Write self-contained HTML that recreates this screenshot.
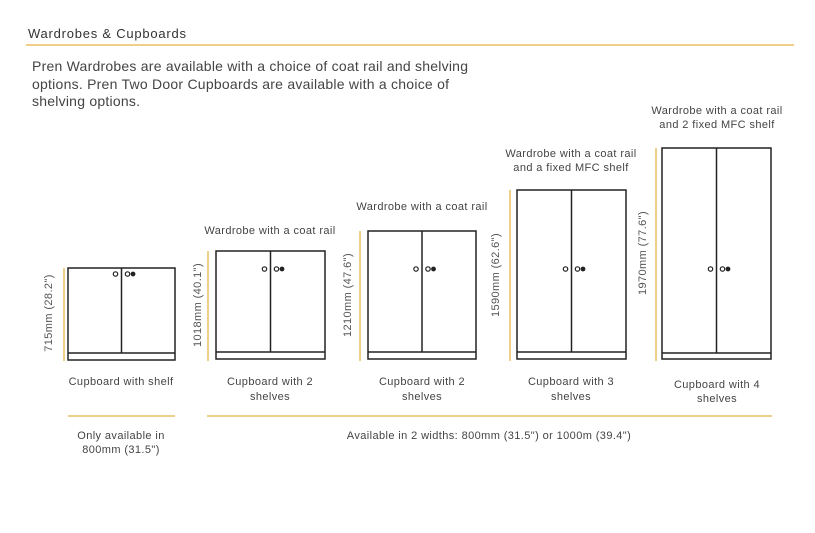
<!DOCTYPE html>
<html><head><meta charset="utf-8"><style>
body{margin:0;background:#fff;width:815px;height:533px;overflow:hidden}
svg{display:block;font-family:"Liberation Sans",sans-serif}
</style></head><body>
<svg width="815" height="533" viewBox="0 0 815 533">
<text x="28" y="38" font-size="13" fill="#333" textLength="158" lengthAdjust="spacing">Wardrobes &amp; Cupboards</text>
<line x1="26" y1="45" x2="794" y2="45" stroke="#e8c160" stroke-width="1.5"/>
<g font-size="14" fill="#444">
<text x="32" y="71" textLength="436" lengthAdjust="spacing">Pren Wardrobes are available with a choice of coat rail and shelving</text>
<text x="32" y="89" textLength="417" lengthAdjust="spacing">options. Pren Two Door Cupboards are available with a choice of</text>
<text x="32" y="106" textLength="108" lengthAdjust="spacing">shelving options.</text>
</g>
<g stroke="#e8c160" stroke-width="1.5">
<line x1="64" y1="268" x2="64" y2="361"/>
<line x1="208" y1="251" x2="208" y2="361"/>
<line x1="360" y1="231" x2="360" y2="361"/>
<line x1="510" y1="190" x2="510" y2="361"/>
<line x1="656" y1="148" x2="656" y2="361"/>
<line x1="68" y1="416" x2="175" y2="416"/>
<line x1="207" y1="416" x2="772" y2="416"/>
</g>
<g font-size="11" fill="#555" text-anchor="middle" letter-spacing="0.4">
<text transform="translate(52,313) rotate(-90)">715mm (28.2")</text>
<text transform="translate(201,305) rotate(-90)">1018mm (40.1")</text>
<text transform="translate(351,295) rotate(-90)">1210mm (47.6")</text>
<text transform="translate(499,275) rotate(-90)">1590mm (62.6")</text>
<text transform="translate(646,253) rotate(-90)">1970mm (77.6")</text>
</g>
<g fill="none" stroke="#222" stroke-width="1.5">
<rect x="68" y="268" width="107" height="92"/><line x1="68" y1="353" x2="175" y2="353"/><line x1="121.5" y1="268" x2="121.5" y2="353"/>
<rect x="216" y="251" width="109" height="108"/><line x1="216" y1="352" x2="325" y2="352"/><line x1="270.5" y1="251" x2="270.5" y2="352"/>
<rect x="368" y="231" width="108" height="128"/><line x1="368" y1="352" x2="476" y2="352"/><line x1="422" y1="231" x2="422" y2="352"/>
<rect x="517" y="190" width="109" height="169"/><line x1="517" y1="352" x2="626" y2="352"/><line x1="571.5" y1="190" x2="571.5" y2="352"/>
<rect x="662" y="148" width="109" height="211"/><line x1="662" y1="353" x2="771" y2="353"/><line x1="716.5" y1="148" x2="716.5" y2="353"/>
</g>
<g stroke="#222" stroke-width="1.2">
<circle cx="115.5" cy="274" r="2.2" fill="none"/><circle cx="127.5" cy="274" r="2.2" fill="none"/><circle cx="133" cy="274" r="1.8" fill="#222"/>
<circle cx="264.5" cy="269" r="2.2" fill="none"/><circle cx="276.5" cy="269" r="2.2" fill="none"/><circle cx="282" cy="269" r="1.8" fill="#222"/>
<circle cx="416" cy="269" r="2.2" fill="none"/><circle cx="428" cy="269" r="2.2" fill="none"/><circle cx="433.5" cy="269" r="1.8" fill="#222"/>
<circle cx="565.5" cy="269" r="2.2" fill="none"/><circle cx="577.5" cy="269" r="2.2" fill="none"/><circle cx="583" cy="269" r="1.8" fill="#222"/>
<circle cx="710.5" cy="269" r="2.2" fill="none"/><circle cx="722.5" cy="269" r="2.2" fill="none"/><circle cx="728" cy="269" r="1.8" fill="#222"/>
</g>
<g font-size="11" fill="#444" text-anchor="middle" letter-spacing="0.4">
<text x="270" y="234">Wardrobe with a coat rail</text>
<text x="422" y="210">Wardrobe with a coat rail</text>
<text x="571" y="157">Wardrobe with a coat rail</text>
<text x="571" y="171">and a fixed MFC shelf</text>
<text x="717" y="114">Wardrobe with a coat rail</text>
<text x="717" y="128">and 2 fixed MFC shelf</text>
<text x="121" y="385">Cupboard with shelf</text>
<text x="270" y="385">Cupboard with 2</text>
<text x="270" y="400">shelves</text>
<text x="422" y="385">Cupboard with 2</text>
<text x="422" y="400">shelves</text>
<text x="571" y="385">Cupboard with 3</text>
<text x="571" y="400">shelves</text>
<text x="717" y="388">Cupboard with 4</text>
<text x="717" y="402">shelves</text>
<text x="121" y="439">Only  available  in</text>
<text x="121" y="453">800mm (31.5")</text>
<text x="489" y="439">Available in 2 widths: 800mm (31.5") or 1000m (39.4")</text>
</g>
</svg>
</body></html>
